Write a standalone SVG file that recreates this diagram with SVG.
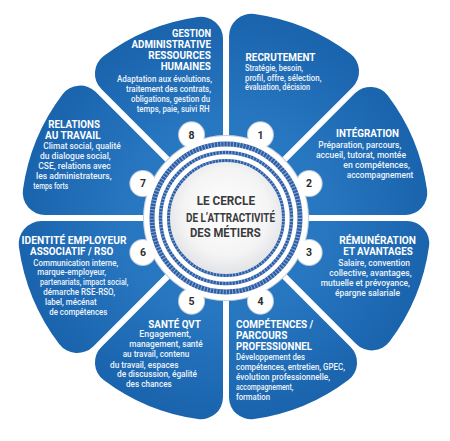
<svg xmlns="http://www.w3.org/2000/svg" width="450" height="441" viewBox="0 0 450 441">
<defs>
<radialGradient id="pg" gradientUnits="userSpaceOnUse" cx="0" cy="0" r="203">
<stop offset="0.45" stop-color="#2878c1"/>
<stop offset="1" stop-color="#1a63ad"/>
</radialGradient>
<radialGradient id="cg" cx="0.5" cy="0.45" r="0.55">
<stop offset="0" stop-color="#ffffff"/>
<stop offset="0.7" stop-color="#f4f4f5"/>
<stop offset="1" stop-color="#e2e3e6"/>
</radialGradient>
<path id="petal" d="M 0,-7.84 L -65.83,-166.77 A 22 22 0 0 1 -51.03,-196.48 A 203 203 0 0 1 51.03,-196.48 A 22 22 0 0 1 65.83,-166.77 Z"/>
</defs>
<style>
.petal { fill: url(#pg); }
.h { font-family: Roboto, "Liberation Sans", sans-serif; font-weight: bold; font-size: 10px; fill: #ffffff; }
.b { font-family: Roboto, "Liberation Sans", sans-serif; font-weight: 500; font-size: 9px; fill: #eef4fb; }
.c { font-family: Roboto, "Liberation Sans", sans-serif; font-weight: bold; font-size: 12px; fill: #3a3a3c; }
.num { font-family: Roboto, "Liberation Sans", sans-serif; font-weight: bold; font-size: 10.5px; fill: #2d2d2d; text-anchor: middle; }
.ring { fill: none; stroke: #2c5ea8; }
.rope { fill: none; stroke: #dfe8f4; stroke-dasharray: 1 2.2; opacity: 0.55; }
.gearO { fill: none; stroke: #c3cedb; stroke-width: 2; }
.gear { fill: #ffffff; }
</style>
<rect width="450" height="441" fill="#ffffff"/>

<g id="connectors"></g>

<g id="n8">
<use href="#petal" class="petal" transform="translate(226 218) rotate(337.5)"/>
<text class="h" x="172" y="37" textLength="39" lengthAdjust="spacingAndGlyphs">GESTION</text>
<text class="h" x="131.5" y="48" textLength="79.5" lengthAdjust="spacingAndGlyphs">ADMINISTRATIVE</text>
<text class="h" x="148.3" y="59" textLength="62.5" lengthAdjust="spacingAndGlyphs">RESSOURCES</text>
<text class="h" x="160.7" y="70" textLength="50" lengthAdjust="spacingAndGlyphs">HUMAINES</text>
<text class="b" x="117" y="82" textLength="95" lengthAdjust="spacingAndGlyphs">Adaptation aux évolutions,</text>
<text class="b" x="126" y="92" textLength="85" lengthAdjust="spacingAndGlyphs">traitement des contrats,</text>
<text class="b" x="131" y="101.7" textLength="79" lengthAdjust="spacingAndGlyphs">obligations, gestion du</text>
<text class="b" x="136.7" y="111.5" textLength="73" lengthAdjust="spacingAndGlyphs">temps, paie, suivi RH</text>
</g>

<g id="n1">
<use href="#petal" class="petal" transform="translate(226 218) rotate(22.5) scale(1.015)"/>
<text class="h" x="245.5" y="60.5" textLength="70" lengthAdjust="spacingAndGlyphs">RECRUTEMENT</text>
<text class="b" x="245" y="70.7" textLength="58" lengthAdjust="spacingAndGlyphs">Stratégie, besoin,</text>
<text class="b" x="245" y="80.5" textLength="76.5" lengthAdjust="spacingAndGlyphs">profil, offre, sélection,</text>
<text class="b" x="245" y="90" textLength="65" lengthAdjust="spacingAndGlyphs">évaluation, décision</text>
</g>

<g id="n2">
<use href="#petal" class="petal" transform="translate(226 218) rotate(67.5)"/>
<text class="h" x="336" y="137.3" textLength="63" lengthAdjust="spacingAndGlyphs">INTÉGRATION</text>
<text class="b" x="318.3" y="148.3" textLength="83" lengthAdjust="spacingAndGlyphs">Préparation, parcours,</text>
<text class="b" x="316" y="158.3" textLength="90" lengthAdjust="spacingAndGlyphs">accueil, tutorat, montée</text>
<text class="b" x="343.3" y="168.3" textLength="66.7" lengthAdjust="spacingAndGlyphs">en compétences,</text>
<text class="b" x="346.7" y="178.4" textLength="66.6" lengthAdjust="spacingAndGlyphs">accompagnement</text>
</g>

<g id="n3">
<use href="#petal" class="petal" transform="translate(226 218) rotate(112.5) scale(1.01)"/>
<text class="h" x="339.3" y="244" textLength="76.7" lengthAdjust="spacingAndGlyphs">RÉMUNÉRATION</text>
<text class="h" x="343.3" y="255" textLength="69.4" lengthAdjust="spacingAndGlyphs">ET AVANTAGES</text>
<text class="b" x="338.3" y="265.7" textLength="71.7" lengthAdjust="spacingAndGlyphs">Salaire, convention</text>
<text class="b" x="329.3" y="275.7" textLength="82.4" lengthAdjust="spacingAndGlyphs">collective, avantages,</text>
<text class="b" x="320.7" y="285.7" textLength="89.3" lengthAdjust="spacingAndGlyphs">mutuelle et prévoyance,</text>
<text class="b" x="335" y="295.7" textLength="65" lengthAdjust="spacingAndGlyphs">épargne salariale</text>
</g>

<g id="n4">
<use href="#petal" class="petal" transform="translate(226 218) rotate(157.5)"/>
<text class="h" x="236" y="328.3" textLength="77.3" lengthAdjust="spacingAndGlyphs">COMPÉTENCES /</text>
<text class="h" x="236" y="339" textLength="51.3" lengthAdjust="spacingAndGlyphs">PARCOURS</text>
<text class="h" x="236" y="349.5" textLength="76" lengthAdjust="spacingAndGlyphs">PROFESSIONNEL</text>
<text class="b" x="236" y="360" textLength="69" lengthAdjust="spacingAndGlyphs">Développement des</text>
<text class="b" x="236" y="370" textLength="109" lengthAdjust="spacingAndGlyphs">compétences, entretien, GPEC,</text>
<text class="b" x="236" y="380" textLength="94" lengthAdjust="spacingAndGlyphs">évolution professionnelle,</text>
<text class="b" x="236" y="390" textLength="57.3" lengthAdjust="spacingAndGlyphs">accompagnement,</text>
<text class="b" x="236" y="400" textLength="34" lengthAdjust="spacingAndGlyphs">formation</text>
</g>

<g id="n5">
<use href="#petal" class="petal" transform="translate(226 218) rotate(202.5)"/>
<text class="h" x="148.3" y="327.6" textLength="52.5" lengthAdjust="spacingAndGlyphs">SANTÉ QVT</text>
<text class="b" x="139.3" y="337.3" textLength="51.7" lengthAdjust="spacingAndGlyphs">Engagement,</text>
<text class="b" x="129.3" y="347.3" textLength="73.4" lengthAdjust="spacingAndGlyphs">management, santé</text>
<text class="b" x="122.7" y="357.3" textLength="66.6" lengthAdjust="spacingAndGlyphs">au travail, contenu</text>
<text class="b" x="110" y="367.5" textLength="68.5" lengthAdjust="spacingAndGlyphs">du travail, espaces</text>
<text class="b" x="117" y="377.3" textLength="80" lengthAdjust="spacingAndGlyphs">de discussion, égalité</text>
<text class="b" x="126" y="387.3" textLength="45.7" lengthAdjust="spacingAndGlyphs">des chances</text>
</g>

<g id="n6">
<use href="#petal" class="petal" transform="translate(226 218) rotate(247.5) scale(1.03)"/>
<text class="h" x="21.5" y="244" textLength="105" lengthAdjust="spacingAndGlyphs">IDENTITÉ EMPLOYEUR</text>
<text class="h" x="30" y="255" textLength="83.3" lengthAdjust="spacingAndGlyphs">ASSOCIATIF / RSO</text>
<text class="b" x="33.3" y="265.7" textLength="85" lengthAdjust="spacingAndGlyphs">Communication interne,</text>
<text class="b" x="37.3" y="275" textLength="68.7" lengthAdjust="spacingAndGlyphs">marque-employeur,</text>
<text class="b" x="40" y="285" textLength="88.3" lengthAdjust="spacingAndGlyphs">partenariats, impact social,</text>
<text class="b" x="43.3" y="295" textLength="71.7" lengthAdjust="spacingAndGlyphs">démarche RSE-RSO,</text>
<text class="b" x="45" y="304.6" textLength="51.7" lengthAdjust="spacingAndGlyphs">label, mécénat</text>
<text class="b" x="49.3" y="315" textLength="58" lengthAdjust="spacingAndGlyphs">de compétences</text>
</g>

<g id="n7">
<use href="#petal" class="petal" transform="translate(226 218) rotate(292.5) scale(1.01)"/>
<text class="h" x="48.3" y="128.3" textLength="51.7" lengthAdjust="spacingAndGlyphs">RELATIONS</text>
<text class="h" x="45" y="139.3" textLength="55.7" lengthAdjust="spacingAndGlyphs">AU TRAVAIL</text>
<text class="b" x="43.3" y="149.3" textLength="77.4" lengthAdjust="spacingAndGlyphs">Climat social, qualité</text>
<text class="b" x="40" y="159" textLength="70.7" lengthAdjust="spacingAndGlyphs">du dialogue social,</text>
<text class="b" x="38.3" y="169" textLength="72.4" lengthAdjust="spacingAndGlyphs">CSE, relations avec</text>
<text class="b" x="36" y="179" textLength="75.7" lengthAdjust="spacingAndGlyphs">les administrateurs,</text>
<text class="b" x="33.3" y="189.3" textLength="35" lengthAdjust="spacingAndGlyphs">temps forts</text>
</g>

<g id="center">
<g transform="translate(226 218)">
<circle class="gearO" r="82"/>
<circle class="gearO" cx="34.44" cy="-83.15" r="12.5"/>
<circle class="gearO" cx="83.15" cy="-34.44" r="12.5"/>
<circle class="gearO" cx="83.15" cy="34.44" r="12.5"/>
<circle class="gearO" cx="34.44" cy="83.15" r="12.5"/>
<circle class="gearO" cx="-34.44" cy="83.15" r="12.5"/>
<circle class="gearO" cx="-83.15" cy="34.44" r="12.5"/>
<circle class="gearO" cx="-83.15" cy="-34.44" r="12.5"/>
<circle class="gearO" cx="-34.44" cy="-83.15" r="12.5"/>
<circle class="gear" r="82"/>
<circle class="gear" cx="34.44" cy="-83.15" r="12.5"/>
<circle class="gear" cx="83.15" cy="-34.44" r="12.5"/>
<circle class="gear" cx="83.15" cy="34.44" r="12.5"/>
<circle class="gear" cx="34.44" cy="83.15" r="12.5"/>
<circle class="gear" cx="-34.44" cy="83.15" r="12.5"/>
<circle class="gear" cx="-83.15" cy="34.44" r="12.5"/>
<circle class="gear" cx="-83.15" cy="-34.44" r="12.5"/>
<circle class="gear" cx="-34.44" cy="-83.15" r="12.5"/>
<circle r="56" fill="url(#cg)"/>
<circle class="ring" r="74" stroke-width="5"/>
<circle class="rope" r="74" stroke-width="5"/>
<circle class="ring" r="65.5" stroke-width="3.5"/>
<circle class="rope" r="65.5" stroke-width="3.5"/>
<circle class="ring" r="57.5" stroke-width="3"/>
<circle class="rope" r="57.5" stroke-width="3"/>
</g>
<text class="c" x="196.7" y="205.3" textLength="58.3" lengthAdjust="spacingAndGlyphs">LE CERCLE</text>
<text class="c" x="186" y="221.5" textLength="89" lengthAdjust="spacingAndGlyphs">DE L’ATTRACTIVITÉ</text>
<text class="c" x="190" y="236.7" textLength="70.7" lengthAdjust="spacingAndGlyphs">DES MÉTIERS</text>
<text class="num" x="260.4" y="138.6">1</text>
<text class="num" x="309.1" y="187.3">2</text>
<text class="num" x="309.1" y="256.1">3</text>
<text class="num" x="260.4" y="304.8">4</text>
<text class="num" x="191.6" y="304.8">5</text>
<text class="num" x="142.9" y="256.1">6</text>
<text class="num" x="142.9" y="187.3">7</text>
<text class="num" x="191.6" y="138.6">8</text>
</g>
</svg>
